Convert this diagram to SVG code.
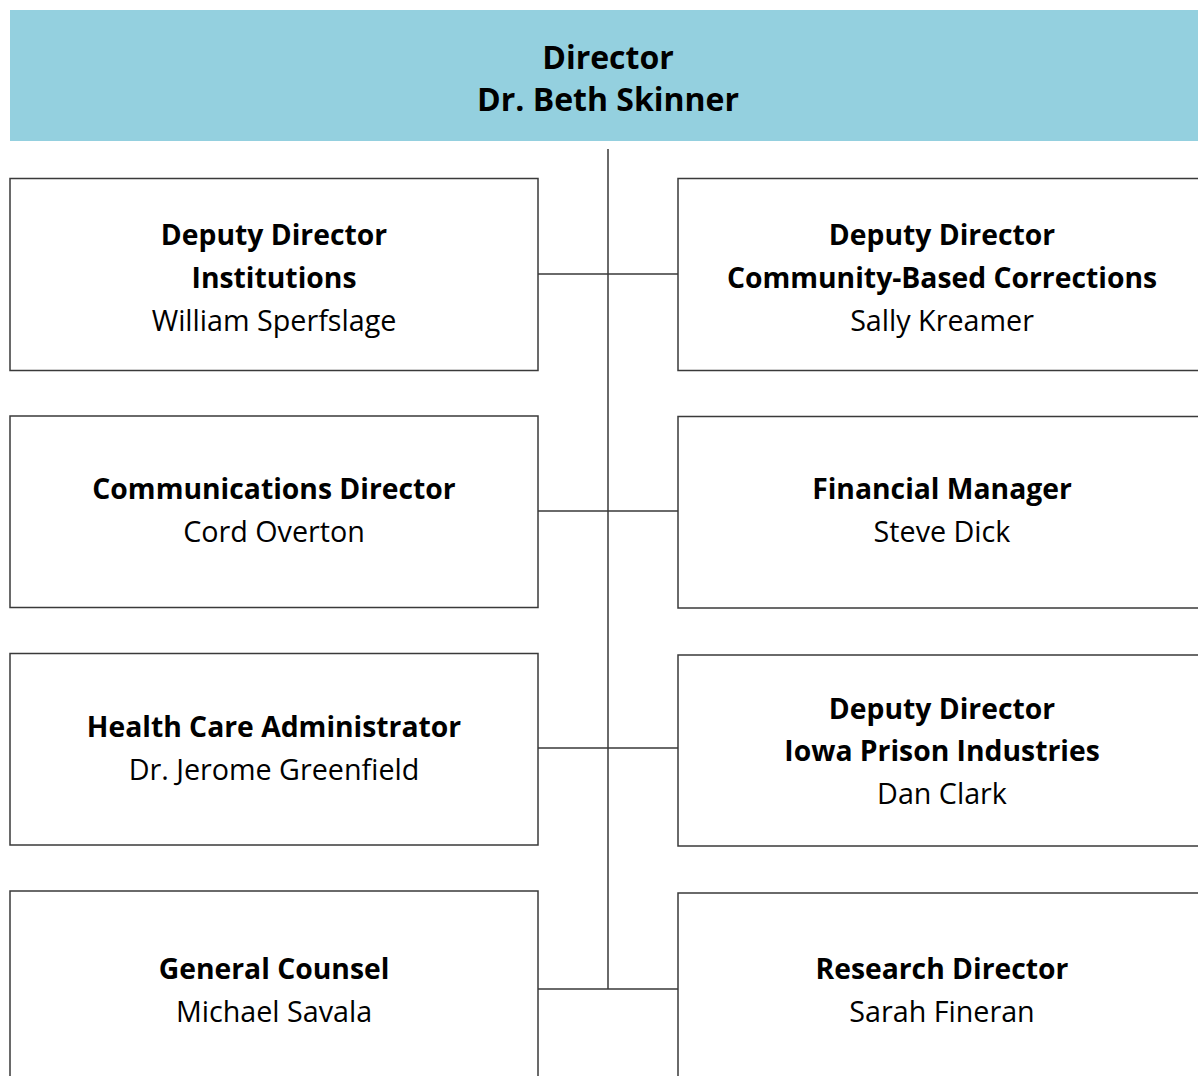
<svg xmlns="http://www.w3.org/2000/svg" width="1198" height="1076" viewBox="0 0 1198 1076">
<style>
.box{fill:#fff;stroke:#3a3a3a;stroke-width:1.5}
.conn{stroke:#3a3a3a;stroke-width:1.5;fill:none}
text{font-family:"Open Sans","Liberation Sans",sans-serif;fill:#000;text-anchor:middle}
.b{font-weight:bold;font-size:28.3px}
.r{font-size:28.7px}
.h{font-weight:bold;font-size:32px}
</style>
<rect width="1198" height="1076" fill="#fff"/>
<g id="director">
<rect x="10" y="10" width="1190" height="131" fill="#94d0df"/>
<text class="h" x="608" y="69">Director</text>
<text class="h" x="608" y="111">Dr. Beth Skinner</text>
</g>
<g id="connectors">
<path class="conn" d="M608 149V989M538 274H678M538 511H678M538 748H678M538 989H678"/>
</g>
<g id="dd-institutions">
<rect class="box" x="10" y="178.5" width="528" height="192"/>
<text class="b" x="274" y="245">Deputy Director</text>
<text class="b" x="274" y="288">Institutions</text>
<text class="r" x="274" y="331">William Sperfslage</text>
</g>
<g id="dd-community">
<rect class="box" x="678" y="178.5" width="528" height="192"/>
<text class="b" x="942" y="245">Deputy Director</text>
<text class="b" x="942" y="288">Community-Based Corrections</text>
<text class="r" x="942" y="331">Sally Kreamer</text>
</g>
<g id="communications">
<rect class="box" x="10" y="416" width="528" height="191.5"/>
<text class="b" x="274" y="499">Communications Director</text>
<text class="r" x="274" y="542">Cord Overton</text>
</g>
<g id="financial">
<rect class="box" x="678" y="416.5" width="528" height="191.5"/>
<text class="b" x="942" y="499">Financial Manager</text>
<text class="r" x="942" y="542">Steve Dick</text>
</g>
<g id="health">
<rect class="box" x="10" y="653.5" width="528" height="191.5"/>
<text class="b" x="274" y="737">Health Care Administrator</text>
<text class="r" x="274" y="780">Dr. Jerome Greenfield</text>
</g>
<g id="dd-ipi">
<rect class="box" x="678" y="655" width="528" height="191"/>
<text class="b" x="942" y="719">Deputy Director</text>
<text class="b" x="942" y="761">Iowa Prison Industries</text>
<text class="r" x="942" y="804">Dan Clark</text>
</g>
<g id="counsel">
<rect class="box" x="10" y="891" width="528" height="200"/>
<text class="b" x="274" y="979">General Counsel</text>
<text class="r" x="274" y="1022">Michael Savala</text>
</g>
<g id="research">
<rect class="box" x="678" y="893" width="528" height="200"/>
<text class="b" x="942" y="979">Research Director</text>
<text class="r" x="942" y="1022">Sarah Fineran</text>
</g>
</svg>
